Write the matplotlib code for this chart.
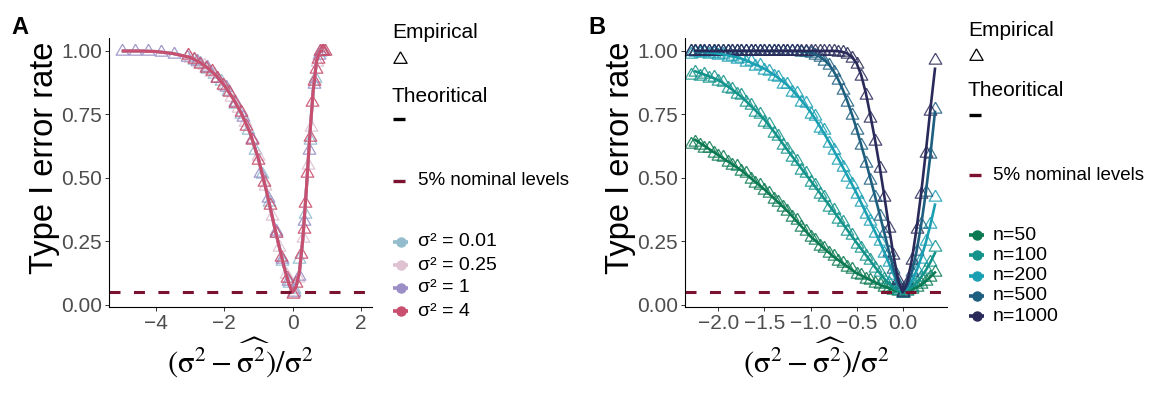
import numpy as np
import matplotlib
matplotlib.use("Agg")
import matplotlib.pyplot as plt
from matplotlib.lines import Line2D

plt.rcParams['font.family'] = ['Liberation Sans', 'DejaVu Sans']

W, H = 1163, 399

# ---------------- panel A data ----------------
sigma_labels = ["σ² = 0.01", "σ² = 0.25", "σ² = 1", "σ² = 4"]
sigma_colors = ["#93bccd", "#dec2d2", "#9c8fc6", "#c8506e"]

# theoretical curve (same for every variance)
thA_x = [-5.0, -4.5, -4.0, -3.5, -3.0, -2.75, -2.5, -2.25, -2.0, -1.75, -1.5, -1.25, -1.0,
         -0.75, -0.5, -0.25, -0.1, 0.0, 0.1, 0.2, 0.3, 0.4, 0.5, 0.6, 0.7, 0.8, 0.9]
thA_y = [1.0, 1.0, 0.998, 0.99, 0.975, 0.958, 0.935, 0.905, 0.865, 0.815, 0.755, 0.68, 0.575,
         0.44, 0.29, 0.15, 0.08, 0.05, 0.07, 0.13, 0.26, 0.45, 0.66, 0.84, 0.96, 1.0, 1.0]

# empirical rates
emA_x001 = [-2.9, -2.7, -2.5, -2.3, -2.1, -1.9, -1.7, -1.5, -1.3, -1.1, -0.9, -0.7, -0.5, -0.3,
            -0.1, 0.05, 0.2, 0.35, 0.5, 0.65, 0.8, 0.9]
emA_y001 = [0.966, 0.952, 0.931, 0.909, 0.880, 0.842, 0.790, 0.752, 0.690, 0.610, 0.515, 0.405,
            0.285, 0.175, 0.085, 0.062, 0.180, 0.360, 0.650, 0.895, 0.995, 1.0]
emA_x025 = [-3.0, -2.8, -2.6, -2.4, -2.2, -2.0, -1.8, -1.6, -1.4, -1.2, -1.0, -0.8, -0.6, -0.4,
            -0.2, 0.0, 0.15, 0.3, 0.45, 0.55, 0.7, 0.85]
emA_y025 = [0.972, 0.958, 0.946, 0.918, 0.893, 0.862, 0.820, 0.775, 0.722, 0.655, 0.585, 0.470,
            0.352, 0.228, 0.122, 0.048, 0.105, 0.262, 0.550, 0.700, 0.955, 1.0]
emA_x1 = [-5.0, -4.62, -4.24, -3.86, -3.48, -3.10, -2.80, -2.50, -2.20, -1.95, -1.70, -1.45, -1.20,
          -0.95, -0.72, -0.50, -0.30, -0.12, 0.03, 0.18, 0.33, 0.48, 0.62, 0.76, 0.9]
emA_y1 = [1.0, 1.0, 1.0, 0.996, 0.990, 0.976, 0.962, 0.938, 0.895, 0.860, 0.800, 0.742, 0.655,
          0.520, 0.420, 0.290, 0.180, 0.095, 0.050, 0.115, 0.330, 0.610, 0.870, 0.985, 1.0]
emA_x4 = [-3.05, -2.88, -2.71, -2.54, -2.37, -2.20, -2.03, -1.86, -1.69, -1.52, -1.35, -1.18,
          -1.01, -0.84, -0.67, -0.50, -0.33, -0.16, 0.0, 0.1, 0.255, 0.32, 0.375, 0.435, 0.5,
          0.578, 0.63, 0.675, 0.73, 0.8, 0.85, 0.9, 0.95]
emA_y4 = [0.985, 0.970, 0.950, 0.935, 0.922, 0.893, 0.866, 0.840, 0.795, 0.760, 0.705, 0.648,
          0.572, 0.485, 0.392, 0.285, 0.190, 0.108, 0.045, 0.088, 0.2, 0.3, 0.4, 0.52, 0.66,
          0.8, 0.88, 0.93, 0.97, 1.0, 1.0, 1.0, 1.0]

# ---------------- panel B data ----------------
n_labels = ["n=50", "n=100", "n=200", "n=500", "n=1000"]
n_colors = ["#0b7a52", "#13938a", "#1ba0b3", "#1e5f80", "#2a2a5a"]

xB = [-2.30, -2.25, -2.20, -2.15, -2.10, -2.05, -2.00, -1.95, -1.90, -1.85, -1.80, -1.75, -1.70,
      -1.65, -1.60, -1.55, -1.50, -1.45, -1.40, -1.35, -1.30, -1.25, -1.20, -1.15, -1.10, -1.05,
      -1.00, -0.95, -0.90, -0.85, -0.80, -0.75, -0.70, -0.65, -0.60, -0.55, -0.50, -0.45, -0.40,
      -0.35, -0.30, -0.25, -0.20, -0.15, -0.10, -0.05, 0.00, 0.05, 0.10, 0.15, 0.20, 0.25, 0.30,
      0.35]

th50 = [0.662, 0.650, 0.638, 0.626, 0.614, 0.602, 0.590, 0.578, 0.566, 0.554,
        0.542, 0.530, 0.515, 0.500, 0.485, 0.470, 0.455, 0.438, 0.421, 0.404,
        0.387, 0.370, 0.350, 0.330, 0.310, 0.290, 0.270, 0.254, 0.238, 0.222,
        0.206, 0.190, 0.177, 0.164, 0.151, 0.138, 0.125, 0.116, 0.107, 0.098,
        0.089, 0.080, 0.073, 0.066, 0.059, 0.053, 0.050, 0.053, 0.060, 0.069,
        0.080, 0.093, 0.110, 0.128]
th100 = [0.926, 0.920, 0.914, 0.907, 0.900, 0.893, 0.886, 0.874, 0.861, 0.848,
         0.834, 0.820, 0.803, 0.785, 0.767, 0.749, 0.730, 0.707, 0.684, 0.660,
         0.635, 0.610, 0.586, 0.562, 0.538, 0.514, 0.490, 0.466, 0.442, 0.418,
         0.394, 0.370, 0.345, 0.320, 0.295, 0.270, 0.245, 0.221, 0.197, 0.173,
         0.149, 0.126, 0.104, 0.084, 0.067, 0.055, 0.050, 0.056, 0.070, 0.088,
         0.110, 0.136, 0.168, 0.205]
th200 = [0.998, 0.997, 0.996, 0.995, 0.993, 0.992, 0.990, 0.987, 0.983, 0.979,
         0.975, 0.970, 0.963, 0.955, 0.947, 0.939, 0.930, 0.919, 0.907, 0.894,
         0.880, 0.865, 0.847, 0.827, 0.806, 0.784, 0.760, 0.733, 0.704, 0.674,
         0.643, 0.610, 0.577, 0.543, 0.509, 0.475, 0.440, 0.402, 0.364, 0.326,
         0.288, 0.250, 0.208, 0.165, 0.122, 0.080, 0.050, 0.065, 0.095, 0.135,
         0.185, 0.245, 0.315, 0.395]
th500 = [1.0] * 23 + [0.999, 0.998, 0.996, 0.993, 0.987, 0.978, 0.965, 0.947, 0.921, 0.888,
                      0.848, 0.802, 0.750, 0.693, 0.630, 0.565, 0.497, 0.428, 0.357, 0.285,
                      0.212, 0.143, 0.083, 0.050, 0.075, 0.130, 0.210, 0.315, 0.440, 0.590,
                      0.760]
th1000 = [1.0] * 32 + [0.999, 0.996, 0.990, 0.976, 0.952, 0.905, 0.835, 0.745, 0.650, 0.545,
                       0.430, 0.310, 0.195, 0.100, 0.050, 0.090, 0.180, 0.300, 0.440, 0.600,
                       0.770, 0.930]

em50 = [0.632, 0.641, 0.628, 0.617, 0.619, 0.598, 0.585, 0.581, 0.561, 0.550,
        0.546, 0.527, 0.518, 0.497, 0.481, 0.473, 0.451, 0.440, 0.417, 0.407,
        0.384, 0.371, 0.346, 0.333, 0.306, 0.293, 0.267, 0.257, 0.233, 0.225,
        0.203, 0.192, 0.172, 0.166, 0.148, 0.140, 0.121, 0.118, 0.104, 0.100,
        0.086, 0.081, 0.070, 0.068, 0.057, 0.055, 0.047, 0.056, 0.062, 0.072,
        0.082, 0.096, 0.112, 0.131]
em100 = [0.905, 0.918, 0.903, 0.909, 0.895, 0.896, 0.880, 0.877, 0.856, 0.851,
         0.831, 0.825, 0.799, 0.789, 0.761, 0.751, 0.722, 0.711, 0.677, 0.664,
         0.629, 0.614, 0.581, 0.567, 0.531, 0.519, 0.483, 0.471, 0.436, 0.424,
         0.387, 0.375, 0.339, 0.326, 0.291, 0.275, 0.241, 0.225, 0.193, 0.177,
         0.147, 0.129, 0.103, 0.087, 0.066, 0.057, 0.046, 0.058, 0.069, 0.090,
         0.110, 0.140, 0.168, 0.228]
em200 = [0.990, 0.995, 0.991, 0.996, 0.990, 0.993, 0.985, 0.988, 0.978, 0.982,
         0.970, 0.972, 0.958, 0.960, 0.942, 0.943, 0.925, 0.922, 0.900, 0.898,
         0.872, 0.870, 0.840, 0.835, 0.800, 0.794, 0.752, 0.744, 0.698, 0.690,
         0.636, 0.612, 0.572, 0.545, 0.505, 0.478, 0.436, 0.405, 0.360, 0.330,
         0.285, 0.252, 0.204, 0.168, 0.118, 0.084, 0.052, 0.068, 0.092, 0.138,
         0.182, 0.250, 0.318, 0.425]
em500 = [1.0] * 23 + [0.999, 0.997, 0.995, 0.992, 0.985, 0.976, 0.962, 0.944, 0.918, 0.886,
                      0.845, 0.798, 0.748, 0.690, 0.628, 0.560, 0.494, 0.425, 0.352, 0.282,
                      0.208, 0.140, 0.082, 0.048, 0.078, 0.128, 0.212, 0.318, 0.445, 0.595,
                      0.772]
em1000 = [1.0] * 32 + [0.998, 0.995, 0.988, 0.972, 0.948, 0.900, 0.828, 0.738, 0.645, 0.540,
                       0.425, 0.305, 0.195, 0.098, 0.050, 0.088, 0.178, 0.298, 0.438, 0.598,
                       0.765, 0.965]

nominal = 0.05
dash_color = "#7b1230"

# triangle like R's pch 2 (centred on its centroid)
TRI = [(0, 1.555), (1.347, -0.778), (-1.347, -0.778), (0, 1.555)]


def px(x, y):
    return x / W, 1 - y / H


def style_axes(ax, xlim, xticks, fmt):
    ax.set_xlim(*xlim)
    ax.set_ylim(-0.008, 1.05)
    ax.set_xticks(xticks)
    ax.set_xticklabels([fmt.format(t).replace("-", "\u2212") for t in xticks])
    ax.set_yticks([0, 0.25, 0.5, 0.75, 1.0])
    ax.set_yticklabels(["0.00", "0.25", "0.50", "0.75", "1.00"])
    for s in ["top", "right"]:
        ax.spines[s].set_visible(False)
    for s in ["left", "bottom"]:
        ax.spines[s].set_linewidth(0.8)
    ax.tick_params(length=3, width=0.7, color="#333333", labelsize=15,
                   labelcolor="#4d4d4d", pad=2)


fig = plt.figure(figsize=(W / 100, H / 100), dpi=100)
bottom = (H - 307) / H
height = (307 - 38.3) / H
axA = fig.add_axes([109 / W, bottom, (372 - 109) / W, height])
axB = fig.add_axes([685 / W, bottom, (947 - 685) / W, height])

# panel A
emA = [(emA_x001, emA_y001), (emA_x025, emA_y025), (emA_x1, emA_y1), (emA_x4, emA_y4)]
for (ex, ey), col in zip(emA, sigma_colors):
    axA.plot(ex, ey, ls="none", marker=TRI, ms=10.5, mfc="none", mec=col, mew=0.9, alpha=0.9)
for col in sigma_colors:
    axA.plot(thA_x, thA_y, color=col, lw=2.2, solid_capstyle="butt")
axA.axhline(nominal, color=dash_color, lw=2.2, dashes=(3.6, 4.4))
style_axes(axA, ((109 - 292.6) / 34.17, (372 - 292.6) / 34.17), [-4, -2, 0, 2], "{:.0f}")

# panel B
emB = [em50, em100, em200, em500, em1000]
thB = [th50, th100, th200, th500, th1000]
for ey, col in zip(emB, n_colors):
    axB.plot(xB, ey, ls="none", marker=TRI, ms=10.5, mfc="none", mec=col, mew=0.9, alpha=0.85)
for ty, col in zip(thB, n_colors):
    axB.plot(xB[1:], ty[1:], color=col, lw=1.9)
axB.axhline(nominal, color=dash_color, lw=2.2, dashes=(3.6, 4.4))
style_axes(axB, ((685 - 902.7) / 92.2, (947 - 902.7) / 92.2),
           [-2.0, -1.5, -1.0, -0.5, 0.0], "{:.1f}")

# axis titles and panel tags
xlab = r"$(\mathrm{\sigma}^2-\widehat{\mathrm{\sigma}^2})/\mathrm{\sigma}^2$"
for cx, tag, tx in [(240, "A", 20), (816, "B", 597)]:
    fig.text(*px(cx, 358), xlab, ha="center", va="center", fontsize=22, math_fontfamily="stix")
    fig.text(*px(tx, 28), tag, ha="center", va="center", fontsize=17, fontweight="bold")
for cx in [45, 620]:
    fig.text(*px(cx, 158), "Type I error rate", rotation=90, ha="center", va="center",
             fontsize=23.5)


def key(x0, x1, y, color, lw=2.6, dot=False):
    fig.add_artist(Line2D([x0 / W, x1 / W], [1 - y / H] * 2, transform=fig.transFigure,
                          color=color, lw=lw, solid_capstyle="butt"))
    if dot:
        fig.add_artist(Line2D([(x0 + x1) / 2 / W], [1 - y / H], transform=fig.transFigure,
                              marker="o", ms=6.5, color=color, ls="none"))


def legend_block(lx, tx, ys, labels, colors):
    # ys: Empirical title, triangle, Theoritical title, dash, nominal, first entry, step
    y_emp, y_tri, y_theo, y_dash, y_nom, y0, step = ys
    fig.text(*px(lx, y_emp), "Empirical", ha="left", va="center", fontsize=15)
    fig.add_artist(Line2D([(lx + 8) / W], [1 - y_tri / H], transform=fig.transFigure,
                          marker=TRI, ms=11, mfc="none", mec="black", mew=0.9, ls="none"))
    fig.text(*px(lx, y_theo), "Theoritical", ha="left", va="center", fontsize=15)
    key(lx + 1, lx + 13, y_dash, "black", lw=2.4)
    key(lx + 1, lx + 13, y_nom, dash_color, lw=2.4)
    fig.text(*px(tx, y_nom), "5% nominal levels", ha="left", va="center", fontsize=13.5)
    for i, (lab, col) in enumerate(zip(labels, colors)):
        y = y0 + i * step
        key(lx + 1, lx + 16, y, col, lw=2.6, dot=True)
        fig.text(*px(tx, y), lab, ha="left", va="center", fontsize=14)


legend_block(392, 418, (33, 59, 96, 119, 181, 242, 23), sigma_labels, sigma_colors)
legend_block(968, 993, (30, 56, 90, 115, 175, 235, 20.3), n_labels, n_colors)

fig.savefig("out.png", dpi=100)
